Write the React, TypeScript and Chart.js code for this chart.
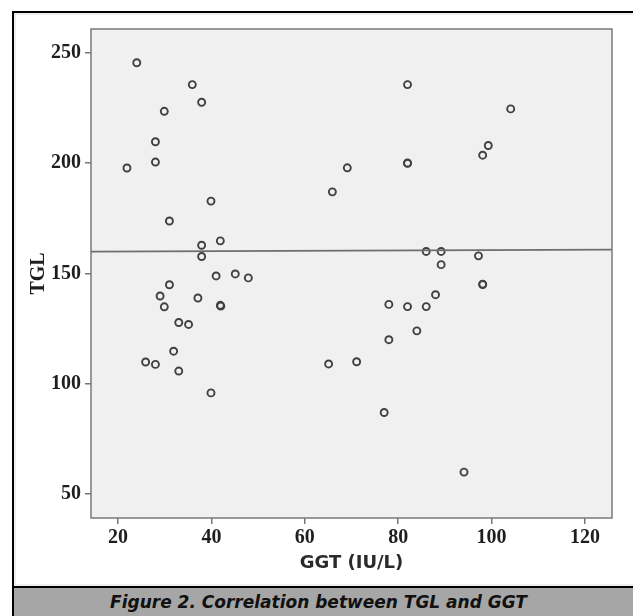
import React, { useEffect, useRef } from "react";
import { Chart, registerables } from "chart.js";

Chart.register(...registerables);

const ggtValues = [
  24.0, 35.9, 37.9, 29.9, 28.0, 28.0, 21.9, 39.9, 31.0, 41.9, 37.9, 37.9, 41.0, 45.1,
  47.9, 31.0, 29.0, 37.1, 29.9, 41.9, 42.0, 33.0, 35.1, 31.9, 25.9, 28.0, 33.0, 39.9,
  82.0, 104.1, 99.3, 98.1, 82.0, 82.0, 69.1, 65.9, 86.0, 89.2, 97.2, 89.2, 98.1, 98.1,
  88.0, 78.0, 82.0, 86.0, 84.0, 78.0, 65.1, 71.1, 77.0, 94.1,
];
const tglValues = [
  245.5, 235.6, 227.6, 223.5, 209.7, 200.5, 197.8, 182.8, 173.8, 164.8, 162.8, 157.7, 148.9, 149.8,
  148.0, 144.9, 139.8, 138.9, 134.9, 135.6, 135.2, 127.8, 126.9, 114.8, 109.9, 108.8, 105.8, 95.9,
  235.6, 224.6, 208.0, 203.6, 199.9, 200.1, 197.9, 187.0, 160.0, 160.0, 158.0, 154.0, 145.0, 145.2,
  140.4, 136.0, 135.0, 135.0, 124.0, 120.0, 109.0, 110.0, 87.0, 60.0,
];
const fitGgt = [14.2, 125.8];
const fitTgl = [159.9, 160.8];
const xTicks = [20, 40, 60, 80, 100, 120];
const yTicks = [50, 100, 150, 200, 250];
const xRange = [14.2, 125.8];
const yRange = [39.2, 260.8];
const xTitle = "GGT (IU/L)";
const yTitle = "TGL";
const caption = "Figure 2. Correlation between TGL and GGT";

const plotFrame = {
  id: "plotFrame",
  beforeDraw(chart: any) {
    const { ctx, chartArea: a } = chart;
    ctx.save();
    ctx.fillStyle = "#f0f0f0";
    ctx.fillRect(a.left, a.top, a.right - a.left, a.bottom - a.top);
    ctx.restore();
  },
  afterDraw(chart: any) {
    const { ctx, chartArea: a } = chart;
    ctx.save();
    ctx.strokeStyle = "#7a7a7a";
    ctx.lineWidth = 1.5;
    ctx.strokeRect(a.left, a.top, a.right - a.left, a.bottom - a.top);
    ctx.restore();
  },
};

export default function App() {
  const ref = useRef<HTMLCanvasElement>(null);
  useEffect(() => {
    if (!ref.current) return;
    const points = ggtValues.map((x, i) => ({ x, y: tglValues[i] }));
    const fit = fitGgt.map((x, i) => ({ x, y: fitTgl[i] }));
    const tickFont = { family: "'Liberation Serif', serif", size: 20, weight: "bold" as const };
    const chart = new Chart(ref.current, {
      type: "scatter",
      data: {
        datasets: [
          {
            type: "line",
            data: fit,
            borderColor: "#6e6e6e",
            borderWidth: 1.6,
            pointRadius: 0,
            fill: false,
          } as any,
          {
            data: points,
            pointRadius: 3.5,
            pointBorderWidth: 1.9,
            borderColor: "#404040",
            backgroundColor: "rgba(0,0,0,0)",
          } as any,
        ],
      },
      plugins: [plotFrame],
      options: {
        animation: false,
        responsive: false,
        devicePixelRatio: 1,
        layout: { padding: { top: 14, right: 21, left: 0, bottom: 0 } },
        plugins: { legend: { display: false }, tooltip: { enabled: false } },
        scales: {
          x: {
            type: "linear",
            min: xRange[0],
            max: xRange[1],
            afterBuildTicks: (s: any) => {
              s.ticks = xTicks.map((v) => ({ value: v }));
            },
            afterFit: (s: any) => {
              s.height = 68;
            },
            border: { display: false },
            grid: { drawOnChartArea: false, drawTicks: true, tickLength: 6, color: "#777", lineWidth: 1.5 },
            ticks: { color: "#1e1e1e", font: tickFont, padding: 2, maxRotation: 0 },
            title: {
              display: true,
              text: xTitle,
              color: "#2a2a2a",
              font: { family: "'DejaVu Sans', sans-serif", size: 18, weight: "bold" },
              padding: { top: 0, bottom: 12 },
            },
          },
          y: {
            type: "linear",
            min: yRange[0],
            max: yRange[1],
            afterBuildTicks: (s: any) => {
              s.ticks = yTicks.map((v) => ({ value: v }));
            },
            afterFit: (s: any) => {
              s.width = 77;
            },
            border: { display: false },
            grid: { drawOnChartArea: false, drawTicks: true, tickLength: 6, color: "#777", lineWidth: 1.5 },
            ticks: { color: "#1e1e1e", font: tickFont, padding: 4 },
            title: {
              display: true,
              text: yTitle,
              color: "#1e1e1e",
              font: { family: "'Liberation Serif', serif", size: 20, weight: "bold" },
              padding: { top: 13, bottom: 0 },
            },
          },
        },
      },
    });
    return () => chart.destroy();
  }, []);

  return (
    <div>
      <div
        style={{
          position: "absolute",
          left: 12,
          top: 11,
          width: 621,
          height: 575,
          borderLeft: "2px solid #000",
          borderTop: "2px solid #000",
          boxSizing: "border-box",
          background: "#fff",
        }}
      />
      <div
        style={{
          position: "absolute",
          left: 14,
          top: 13,
          width: 619,
          height: 573,
          border: "2px solid #eeeeee",
          borderRight: "none",
          boxSizing: "border-box",
        }}
      />
      <canvas
        ref={ref}
        width={619}
        height={573}
        style={{ position: "absolute", left: 14, top: 13, width: 619, height: 573 }}
      />
      <div
        style={{
          position: "absolute",
          left: 12,
          top: 586,
          width: 621,
          height: 30,
          boxSizing: "border-box",
          borderLeft: "2px solid #000",
          borderTop: "2px solid #000",
          background: "#a6a6a6",
          color: "#111",
          fontFamily: "'DejaVu Sans', sans-serif",
          fontWeight: "bold",
          fontStyle: "italic",
          fontSize: 17,
          lineHeight: "28px",
          textAlign: "center",
          paddingRight: 10,
          whiteSpace: "nowrap",
        }}
      >
        {caption}
      </div>
    </div>
  );
}
